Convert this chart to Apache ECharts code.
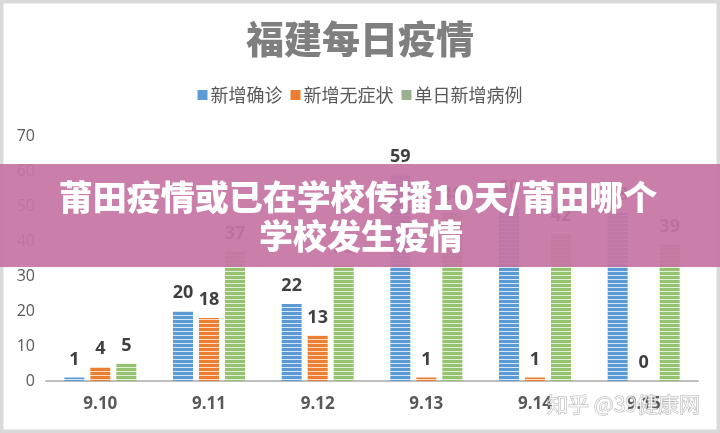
<!DOCTYPE html>
<html>
<head>
<meta charset="utf-8">
<script src="https://cdn.jsdelivr.net/npm/echarts@6/dist/echarts.min.js"></script>
<style>
html,body{margin:0;padding:0;background:#fff;}
#c{width:720px;height:433px;}
</style>
</head>
<body>
<div id="c"></div>
<script>
var categories = ['9.10', '9.11', '9.12', '9.13', '9.14', '9.15'];
var seriesNames = ['新增确诊', '新增无症状', '单日新增病例'];
var confirmed = [1, 20, 22, 59, 50, 48];
var asymptomatic = [4, 18, 13, 1, 1, 0];
var dailyTotal = [5, 37, 33, 48, 42, 39];
var yTicks = [0, 10, 20, 30, 40, 50, 60, 70];
var titleText = '福建每日疫情';
var bannerLine1 = '莆田疫情或已在学校传播10天/莆田哪个';
var bannerLine2 = '学校发生疫情';
var watermarkText = '知乎 @39健康网';

function stripe(color, light) {
  var c = document.createElement('canvas');
  c.width = 4; c.height = 4;
  var ctx = c.getContext('2d');
  ctx.fillStyle = light; ctx.fillRect(0, 0, 4, 4);
  ctx.fillStyle = color; ctx.fillRect(0, 0, 4, 3);
  return { image: c, repeat: 'repeat' };
}
var baseColors = ['#5b9bd5', '#ed7d31', '#94c26f'];
var lightColors = ['#d6e6f5', '#fbdcc6', '#e3efd9'];
var legendColors = ['#5b9bd5', '#ed7d31', '#9bb08f'];
var dataSets = [confirmed, asymptomatic, dailyTotal];

var chart = echarts.init(document.getElementById('c'), null, {renderer: 'canvas'});
var series = seriesNames.map(function (n, i) {
  return {
    name: n,
    type: 'bar',
    barWidth: 20,
    barGap: '30%',
    data: dataSets[i],
    itemStyle: { color: stripe(baseColors[i], lightColors[i]) },
    label: {
      show: true, position: 'top', distance: 9,
      color: '#404040', fontSize: 18, fontWeight: 'bold',
      fontFamily: 'Open Sans, sans-serif'
    },
    z: 2
  };
});

chart.setOption({
  animation: false,
  backgroundColor: '#fff',
  color: legendColors,
  title: {
    text: titleText, left: 'center', top: 15,
    textStyle: { fontSize: 38, fontWeight: 900, color: '#7f7f7f', fontFamily: 'Noto Sans CJK SC' }
  },
  legend: {
    top: 81, left: 'center',
    itemWidth: 10, itemHeight: 10, itemGap: 8,
    icon: 'rect',
    textStyle: { fontSize: 18, color: '#595959', fontFamily: 'Noto Sans CJK SC', padding: [0, 0, 0, -2] },
    data: seriesNames.map(function (n, i) { return { name: n, itemStyle: { color: legendColors[i] } }; })
  },
  grid: { left: 46, right: 22, top: 136, bottom: 52, containLabel: false },
  xAxis: {
    type: 'category', data: categories,
    axisLine: { lineStyle: { color: '#bfbfbf', width: 2 } },
    axisTick: { show: false },
    axisLabel: { color: '#595959', fontSize: 17, fontWeight: 'bold', margin: 15, fontFamily: 'Open Sans, sans-serif' }
  },
  yAxis: {
    type: 'value', min: yTicks[0], max: yTicks[yTicks.length - 1], interval: 10,
    splitLine: { show: false },
    axisLine: { show: false }, axisTick: { show: false },
    axisLabel: { color: '#595959', fontSize: 16, margin: 11, fontFamily: 'Open Sans, sans-serif' }
  },
  series: series,
  graphic: [
    { type: 'rect', shape: { x: 1.5, y: 1.5, width: 717, height: 430 }, style: { fill: 'none', stroke: '#d9d9d9', lineWidth: 4 }, z: 100 },
    { type: 'rect', shape: { x: 0, y: 164, width: 720, height: 103 }, style: { fill: 'rgba(198,116,164,0.93)' }, z: 200 },
    { type: 'text', x: 358, y: 197, style: { text: bannerLine1, fill: '#fff', font: '900 34px "Noto Sans CJK SC"', textAlign: 'center', textVerticalAlign: 'middle' }, z: 201 },
    { type: 'text', x: 361, y: 236, style: { text: bannerLine2, fill: '#fff', font: '900 34px "Noto Sans CJK SC"', textAlign: 'center', textVerticalAlign: 'middle' }, z: 201 },
    { type: 'text', x: 700, y: 404, style: { text: watermarkText, fill: 'rgba(255,255,255,0.75)', stroke: 'rgba(120,120,120,0.55)', lineWidth: 1, font: '21px "Noto Sans CJK SC"', textAlign: 'right', textVerticalAlign: 'middle' }, z: 201 }
  ]
});
</script>
</body>
</html>
